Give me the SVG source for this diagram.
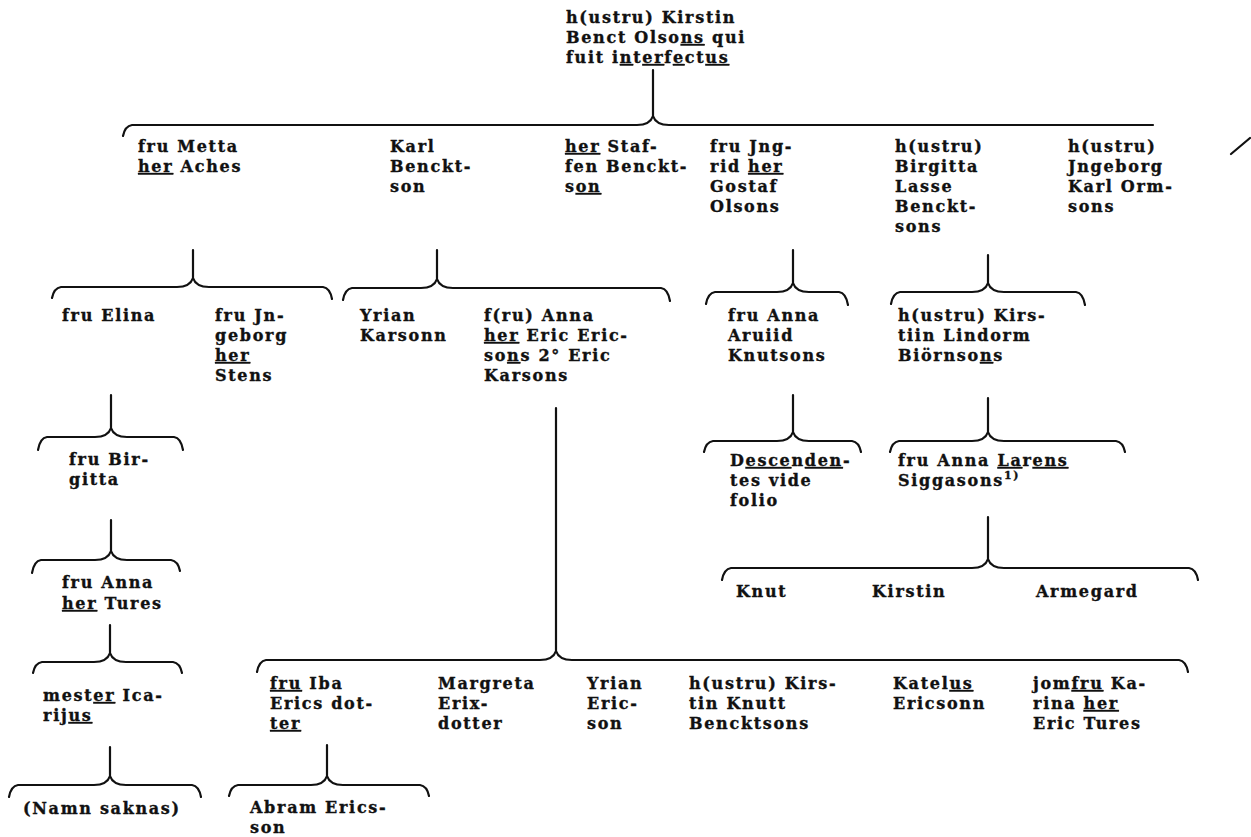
<svg xmlns="http://www.w3.org/2000/svg" width="1251" height="837" viewBox="0 0 1251 837">
<style>
.t{font-family:"DejaVu Serif","Liberation Serif",serif;font-weight:bold;font-size:16px;letter-spacing:1.7px;fill:#111;stroke:#111;stroke-width:0.35px}
.u{text-decoration:underline;text-decoration-thickness:2px;text-underline-offset:3px}
.sup{font-size:11px}
.c{fill:none;stroke:#111;stroke-width:2.2;stroke-linecap:round;stroke-linejoin:round}
</style>
<rect width="1251" height="837" fill="#fff"/>
<g id="connectors">
<path class="c" d="M653,70 V116 M123,136 Q125,126 132,125 L637,125 Q650,125 653,116 Q656,125 669,125 L1153,125"/>
<path class="c" d="M1231,154 L1250,138"/>
<path class="c" d="M193,250 V278 M52,298 Q54,288 61,287 L177,287 Q190,287 193,278 Q196,287 209,287 L323,287 Q330,288 332,299"/>
<path class="c" d="M437,250 V279 M343,300 Q345,289 352,288 L421,288 Q434,288 437,279 Q440,288 453,288 L661,288 Q668,289 670,301"/>
<path class="c" d="M793,250 V283 M706,304 Q708,293 715,292 L777,292 Q790,292 793,283 Q796,292 809,292 L839,292 Q846,293 848,305"/>
<path class="c" d="M988,255 V283 M891,304 Q893,293 900,292 L972,292 Q985,292 988,283 Q991,292 1004,292 L1076,292 Q1083,293 1085,305"/>
<path class="c" d="M111,395 V428 M38,450 Q40,438 47,437 L95,437 Q108,437 111,428 Q114,437 127,437 L174,437 Q181,438 183,450"/>
<path class="c" d="M111,520 V551 M32,573 Q34,561 41,560 L95,560 Q108,560 111,551 Q114,560 127,560 L171,560 Q178,561 180,571"/>
<path class="c" d="M110,625 V653 M33,673 Q35,663 42,662 L94,662 Q107,662 110,653 Q113,662 126,662 L173,662 Q180,663 182,673"/>
<path class="c" d="M110,747 V776 M9,797 Q11,786 18,785 L94,785 Q107,785 110,776 Q113,785 126,785 L192,785 Q199,786 201,797"/>
<path class="c" d="M793,395 V432 M704,452 Q706,442 713,441 L777,441 Q790,441 793,432 Q796,441 809,441 L852,441 Q859,442 861,452"/>
<path class="c" d="M988,398 V432 M890,452 Q892,442 899,441 L972,441 Q985,441 988,432 Q991,441 1004,441 L1116,441 Q1123,442 1125,452"/>
<path class="c" d="M988,517 V559 M722,580 Q724,569 731,568 L972,568 Q985,568 988,559 Q991,568 1004,568 L1189,568 Q1196,569 1198,580"/>
<path class="c" d="M556,408 V651 M257,672 Q259,661 266,660 L540,660 Q553,660 556,651 Q559,660 572,660 L1179,660 Q1186,661 1188,672"/>
<path class="c" d="M327,745 V776 M229,796 Q231,786 238,785 L311,785 Q324,785 327,776 Q330,785 343,785 L420,785 Q427,786 429,796"/>
</g>
<g id="n0"><text class="t"><tspan x="566" y="23">h(ustru) Kirstin</tspan><tspan x="566" y="43">Benct Olso<tspan class="u">ns</tspan> qui</tspan><tspan x="566" y="63">fuit i<tspan class="u">n</tspan>t<tspan class="u">er</tspan>f<tspan class="u">e</tspan>ct<tspan class="u">us</tspan></tspan></text></g>
<g id="n1"><text class="t"><tspan x="138" y="152">fru Metta</tspan><tspan x="138" y="172"><tspan class="u">her</tspan> Aches</tspan></text></g>
<g id="n2"><text class="t"><tspan x="390" y="152">Karl</tspan><tspan x="390" y="172">Benckt-</tspan><tspan x="390" y="192">son</tspan></text></g>
<g id="n3"><text class="t"><tspan x="565" y="152"><tspan class="u">her</tspan> Staf-</tspan><tspan x="565" y="172">fen Benckt-</tspan><tspan x="565" y="192">s<tspan class="u">on</tspan></tspan></text></g>
<g id="n4"><text class="t"><tspan x="710" y="152">fru Jng-</tspan><tspan x="710" y="172">rid <tspan class="u">her</tspan></tspan><tspan x="710" y="192">Gostaf</tspan><tspan x="710" y="212">Olsons</tspan></text></g>
<g id="n5"><text class="t"><tspan x="895" y="152">h(ustru)</tspan><tspan x="895" y="172">Birgitta</tspan><tspan x="895" y="192">Lasse</tspan><tspan x="895" y="212">Benckt-</tspan><tspan x="895" y="232">sons</tspan></text></g>
<g id="n6"><text class="t"><tspan x="1068" y="152">h(ustru)</tspan><tspan x="1068" y="172">Jngeborg</tspan><tspan x="1068" y="192">Karl Orm-</tspan><tspan x="1068" y="212">sons</tspan></text></g>
<g id="n7"><text class="t"><tspan x="62" y="321">fru Elina</tspan></text></g>
<g id="n8"><text class="t"><tspan x="215" y="321">fru Jn-</tspan><tspan x="215" y="341">geborg</tspan><tspan x="215" y="361"><tspan class="u">her</tspan></tspan><tspan x="215" y="381">Stens</tspan></text></g>
<g id="n9"><text class="t"><tspan x="360" y="321">Yrian</tspan><tspan x="360" y="341">Karsonn</tspan></text></g>
<g id="n10"><text class="t"><tspan x="484" y="321">f(ru) Anna</tspan><tspan x="484" y="341"><tspan class="u">her</tspan> Eric Eric-</tspan><tspan x="484" y="361">so<tspan class="u">n</tspan>s 2° Eric</tspan><tspan x="484" y="381">Karsons</tspan></text></g>
<g id="n11"><text class="t"><tspan x="728" y="321">fru Anna</tspan><tspan x="728" y="341">Aruiid</tspan><tspan x="728" y="361">Knutsons</tspan></text></g>
<g id="n12"><text class="t"><tspan x="898" y="321">h(ustru) Kirs-</tspan><tspan x="898" y="341">tiin Lindorm</tspan><tspan x="898" y="361">Biörnso<tspan class="u">n</tspan>s</tspan></text></g>
<g id="n13"><text class="t"><tspan x="69" y="465">fru Bir-</tspan><tspan x="69" y="485">gitta</tspan></text></g>
<g id="n14"><text class="t"><tspan x="730" y="466">D<tspan class="u">esce</tspan>n<tspan class="u">den</tspan>-</tspan><tspan x="730" y="486">tes vide</tspan><tspan x="730" y="506">folio</tspan></text></g>
<g id="n15"><text class="t"><tspan x="898" y="466">fru Anna <tspan class="u">La</tspan>r<tspan class="u">ens</tspan></tspan><tspan x="898" y="486">Siggasons<tspan class="sup" dy="-7">1)</tspan></tspan></text></g>
<g id="n16"><text class="t"><tspan x="62" y="588">fru Anna</tspan><tspan x="62" y="609"><tspan class="u">her</tspan> Tures</tspan></text></g>
<g id="n17"><text class="t" x="736" y="597">Knut</text></g>
<g id="n18"><text class="t" x="872" y="597">Kirstin</text></g>
<g id="n19"><text class="t" x="1036" y="597">Armegard</text></g>
<g id="n20"><text class="t"><tspan x="43" y="701">mest<tspan class="u">er</tspan> Ica-</tspan><tspan x="43" y="721">rij<tspan class="u">us</tspan></tspan></text></g>
<g id="n21"><text class="t"><tspan x="270" y="689"><tspan class="u">fru</tspan> Iba</tspan><tspan x="270" y="709">Erics dot-</tspan><tspan x="270" y="729"><tspan class="u">ter</tspan></tspan></text></g>
<g id="n22"><text class="t"><tspan x="438" y="689">Margreta</tspan><tspan x="438" y="709">Erix-</tspan><tspan x="438" y="729">dotter</tspan></text></g>
<g id="n23"><text class="t"><tspan x="587" y="689">Yrian</tspan><tspan x="587" y="709">Eric-</tspan><tspan x="587" y="729">son</tspan></text></g>
<g id="n24"><text class="t"><tspan x="689" y="689">h(ustru) Kirs-</tspan><tspan x="689" y="709">tin Knutt</tspan><tspan x="689" y="729">Bencktsons</tspan></text></g>
<g id="n25"><text class="t"><tspan x="893" y="689">Katel<tspan class="u">us</tspan></tspan><tspan x="893" y="709">Ericsonn</tspan></text></g>
<g id="n26"><text class="t"><tspan x="1033" y="689">jom<tspan class="u">fru</tspan> Ka-</tspan><tspan x="1033" y="709">rina <tspan class="u">her</tspan></tspan><tspan x="1033" y="729">Eric Tures</tspan></text></g>
<g id="n27"><text class="t" x="23" y="814">(Namn saknas)</text></g>
<g id="n28"><text class="t"><tspan x="250" y="813">Abram Erics-</tspan><tspan x="250" y="833">son</tspan></text></g>
</svg>
